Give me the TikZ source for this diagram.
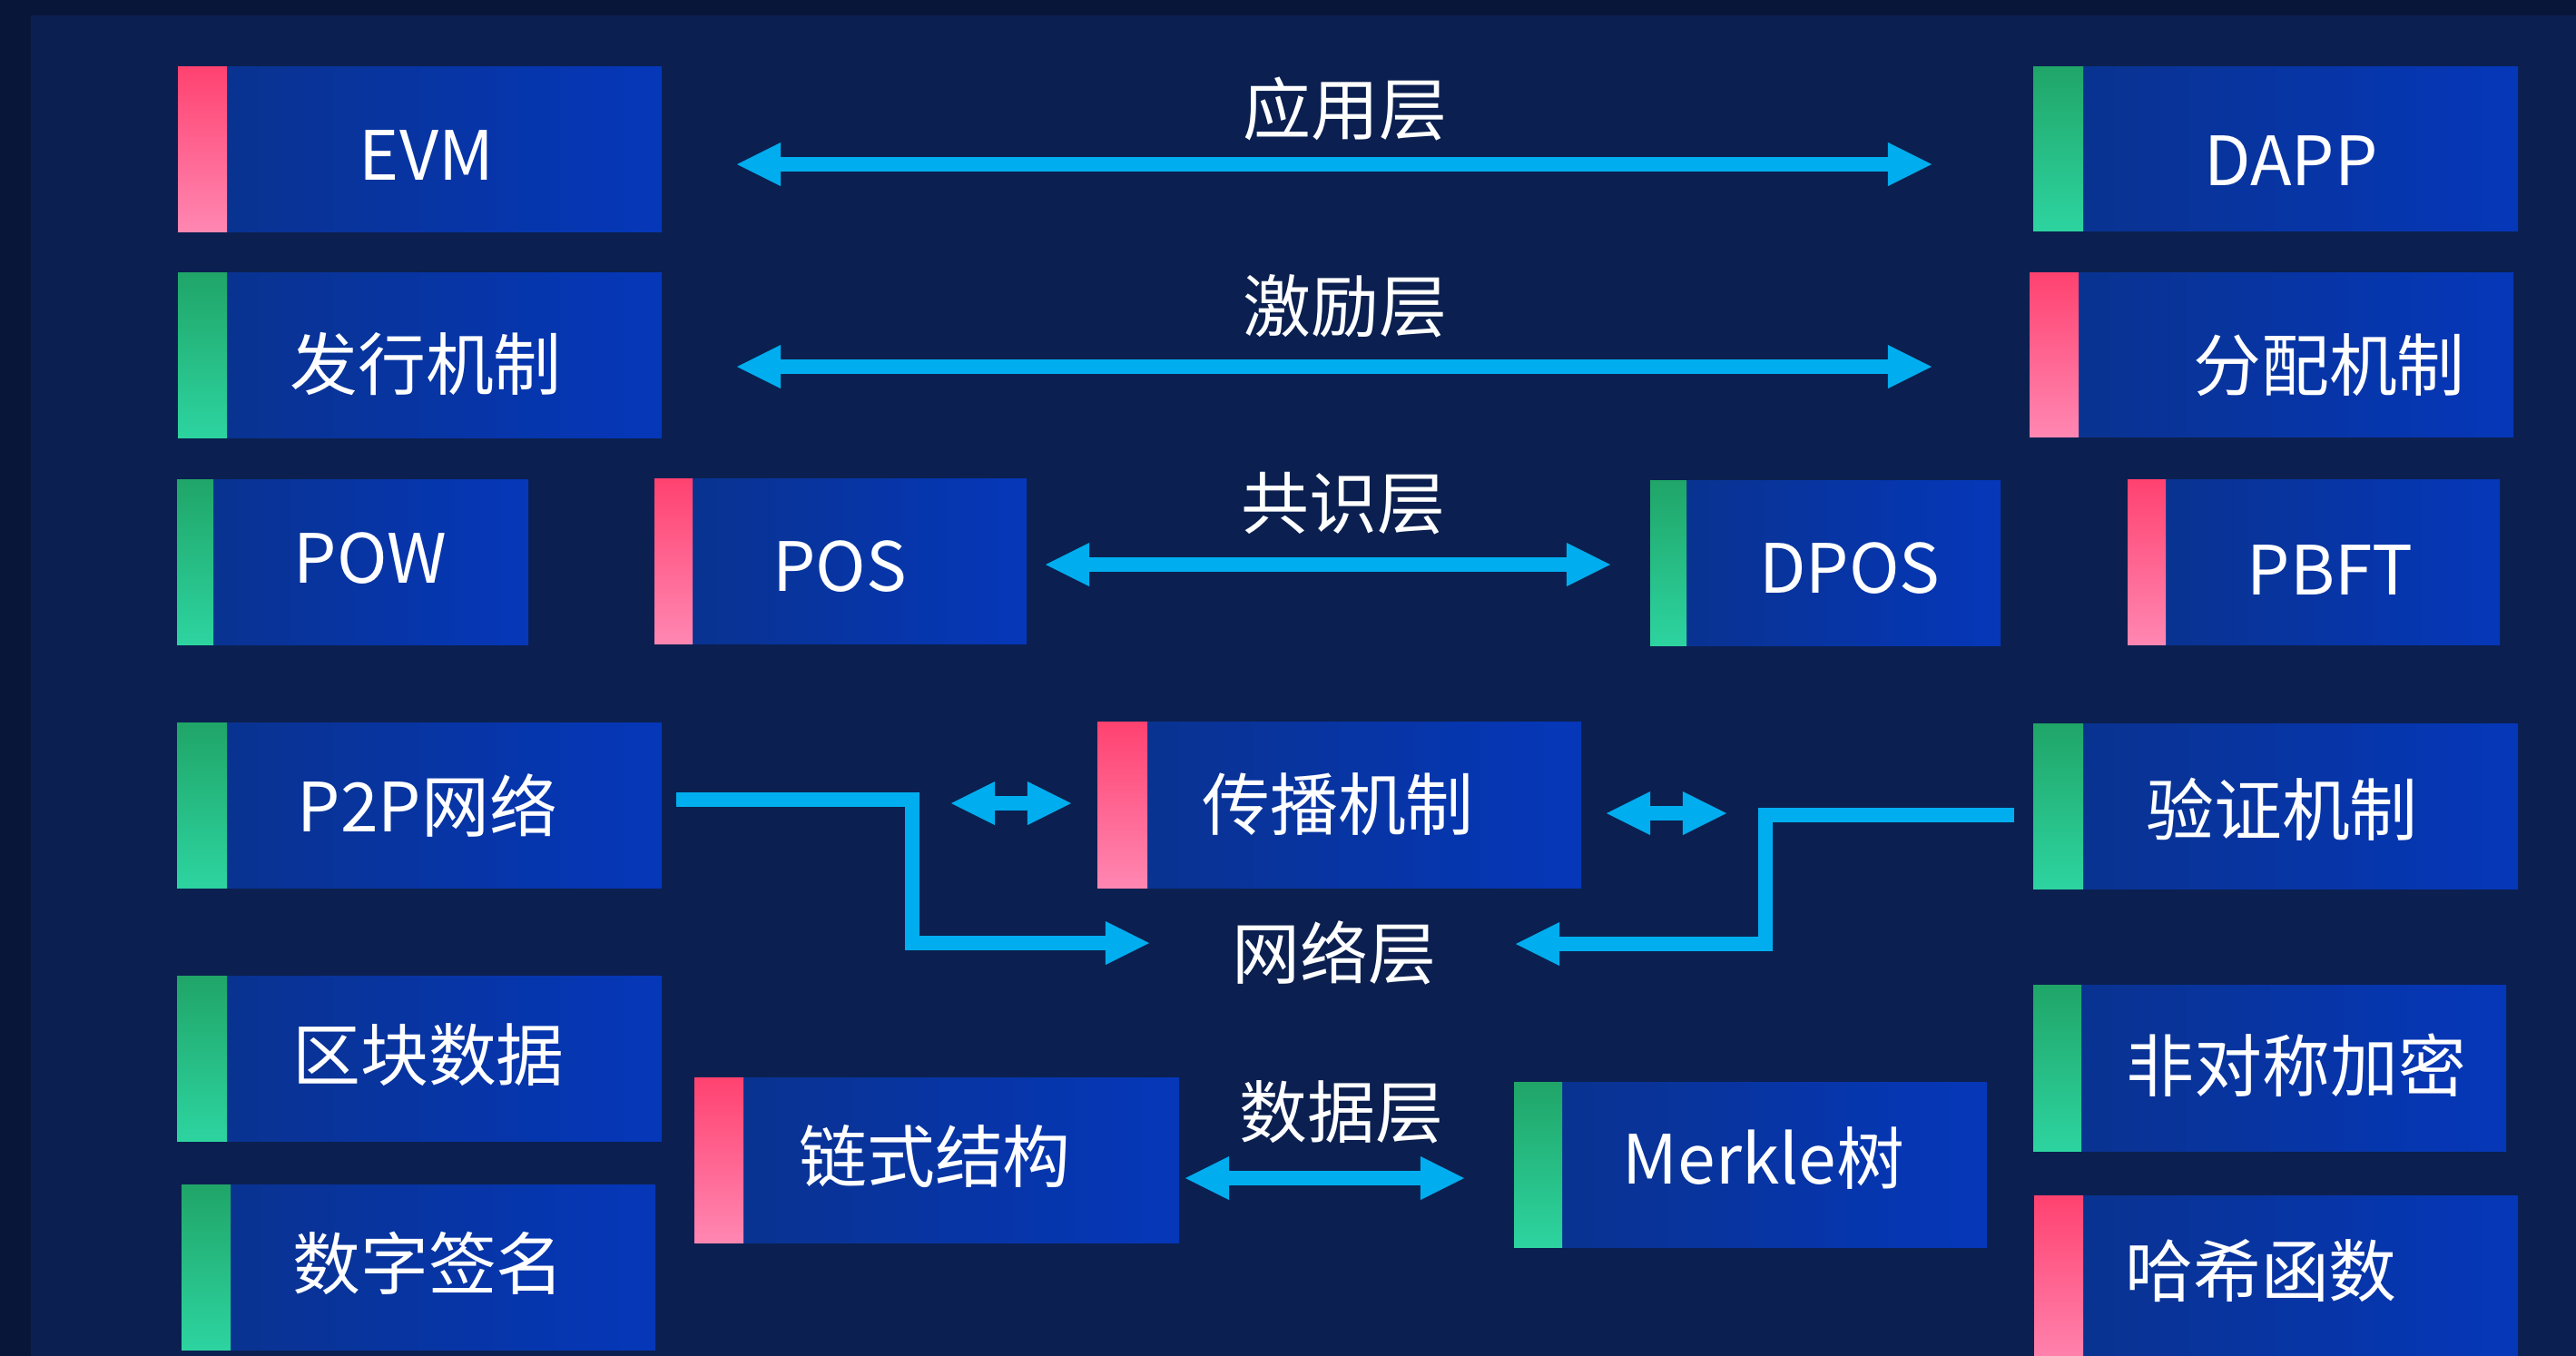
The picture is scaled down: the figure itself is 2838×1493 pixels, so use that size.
\documentclass[tikz,border=0pt]{standalone}
\usepackage{fontspec}
\newfontfamily\cjkf{Noto Sans CJK SC}
\usetikzlibrary{arrows.meta,fit}
\definecolor{bgout}{RGB}{8,22,58}
\definecolor{bgin}{RGB}{11,32,80}
\definecolor{boxl}{RGB}{10,50,140}
\definecolor{boxr}{RGB}{5,55,185}
\definecolor{gtop}{RGB}{32,165,104}
\definecolor{gbot}{RGB}{45,212,160}
\definecolor{ptop}{RGB}{255,66,112}
\definecolor{pbot}{RGB}{255,135,178}
\definecolor{cy}{RGB}{0,174,239}
\tikzset{
 box/.style={rectangle, inner sep=0pt, outer sep=0pt, draw=none, left color=boxl, right color=boxr},
 gbar/.style={top color=gtop, bottom color=gbot},
 pbar/.style={top color=ptop, bottom color=pbot},
 lbl/.style={text=white, font=\cjkf\fontsize{21.3}{24}\selectfont, inner sep=0pt},
 tipx/.tip={Triangle[length=4.8mm,width=4.8mm,line width=0pt]},
 arr/.style={draw=cy, line width=1.6mm, line join=miter, -tipx},
 dbl/.style={draw=cy, line width=1.6mm, tipx-tipx},
}
\newcommand\mkbox[9]{%
 \node[box, fit={(#2,#3) (#4,#5)}] (#1) {};
 \shade[#7] (#2,#3) rectangle (#6,#5);
 \node[lbl] (#1-t) at (#8) {#9};
}
\begin{document}
\begin{tikzpicture}[x=0.01cm,y=-0.01cm]
\useasboundingbox (0,0) rectangle (2838,1493);
\fill[bgout] (-10,-10) rectangle (2850,1510);
\fill[bgin] (34,17) rectangle (2850,1510);

% boxes
\mkbox{evm}{196}{73}{729}{255}{250}{pbar}{470,171}{EVM}
\mkbox{fxjz}{196}{300}{729}{482}{250}{gbar}{469,401}{发行机制}
\mkbox{dapp}{2240}{73}{2774}{254}{2295}{gbar}{2524,177}{DAPP}
\mkbox{fpjz}{2236}{300}{2769}{481}{2290}{pbar}{2566,402}{分配机制}
\mkbox{pow}{195}{528}{582}{710}{235}{gbar}{408,615}{POW}
\mkbox{pos}{721}{527}{1131}{709}{763}{pbar}{925,624}{POS}
\mkbox{dpos}{1818}{529}{2204}{711}{1858}{gbar}{2038,626}{DPOS}
\mkbox{pbft}{2344}{528}{2754}{710}{2386}{pbar}{2567,628}{PBFT}
\mkbox{p2p}{195}{796}{729}{978}{250}{gbar}{471,887}{P2P网络}
\mkbox{cbjz}{1209}{795}{1742}{978}{1264}{pbar}{1474,886}{传播机制}
\mkbox{yzjz}{2240}{797}{2774}{979}{2295}{gbar}{2514,892}{验证机制}
\mkbox{qksj}{195}{1075}{729}{1257}{250}{gbar}{472,1162}{区块数据}
\mkbox{szqm}{200}{1305}{722}{1487}{254}{gbar}{472,1392}{数字签名}
\mkbox{lsjg}{765}{1187}{1299}{1369}{819}{pbar}{1030,1274}{链式结构}
\mkbox{merkle}{1668}{1192}{2189}{1374}{1721}{gbar}{1943,1276}{Merkle树}
\mkbox{fdcjm}{2240}{1085}{2761}{1268}{2293}{gbar}{2530,1174}{非对称加密}
\mkbox{hxhs}{2241}{1317}{2774}{1510}{2295}{pbar}{2491,1400}{哈希函数}

% layer labels
\node[lbl] (yyc) at (1482,120) {应用层};
\node[lbl] (jlc) at (1482,337) {激励层};
\node[lbl] (gsc) at (1480,555) {共识层};
\node[lbl] (wlc) at (1470,1050) {网络层};
\node[lbl] (sjc) at (1478,1225) {数据层};

% arrow end coordinates
\coordinate (a1l) at (812,181);  \coordinate (a1r) at (2128,181);
\coordinate (a2l) at (812,404);  \coordinate (a2r) at (2128,404);
\coordinate (a3l) at (1152,622); \coordinate (a3r) at (1774,622);
\coordinate (a4l) at (1048,885); \coordinate (a4r) at (1180,885);
\coordinate (a5l) at (1770,896); \coordinate (a5r) at (1902,896);
\coordinate (a6l) at (1306,1298); \coordinate (a6r) at (1613,1298);
\coordinate (p2pout) at (745,881);
\coordinate (wlin1) at (1266,1039);
\coordinate (yzout) at (2219,898);
\coordinate (wlin2) at (1670,1040);

\draw[dbl] (a1l) -- (a1r);
\draw[dbl] (a2l) -- (a2r);
\draw[dbl] (a3l) -- (a3r);
\draw[dbl] (a4l) -- (a4r);
\draw[dbl] (a5l) -- (a5r);
\draw[dbl] (a6l) -- (a6r);
\draw[arr] (p2pout) -- (1005,881) -- (1005,1039) -- (wlin1);
\draw[arr] (yzout) -- (1945,898) -- (1945,1040) -- (wlin2);
\end{tikzpicture}
\end{document}
